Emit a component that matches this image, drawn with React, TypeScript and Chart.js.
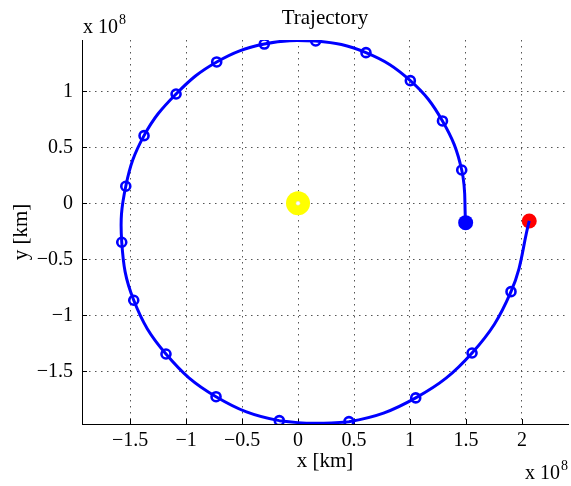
import { useEffect, useRef } from "react";
import { Chart, registerables } from "chart.js";

Chart.register(...registerables);

// Heliocentric positions, in units of 10^8 km
const markX = [1.462, 1.29, 1.003, 0.607, 0.158, -0.301, -0.726, -1.089, -1.375, -1.538, -1.574, -1.467, -1.179, -0.732, -0.167, 0.455, 1.051, 1.554, 1.902];
const markY = [0.297, 0.735, 1.095, 1.345, 1.449, 1.422, 1.262, 0.976, 0.604, 0.152, -0.348, -0.866, -1.346, -1.727, -1.941, -1.95, -1.738, -1.337, -0.789];
const departure = { x: 1.497, y: -0.173 };
const arrival = { x: 2.065, y: -0.158 };
const sun = { x: 0, y: 0 };

const xTicks = [-1.5, -1, -0.5, 0, 0.5, 1, 1.5, 2];
const yTicks = [-1.5, -1, -0.5, 0, 0.5, 1];
const xRange = [-1.929, 2.411];
const yRange = [-1.971, 1.458];

const SERIF = "'Liberation Serif', 'Times New Roman', serif";
const BLUE = "#0000ff";
const GRID = "#555";

const fmt = (v: number) => (v < 0 ? "\u2212" : "") + String(Math.abs(v));

const marks = markX.map((x, i) => ({ x, y: markY[i] }));
const path = [departure, ...marks, arrival];

const zeroPadding = (s: any) => {
  s.paddingLeft = 0;
  s.paddingRight = 0;
  s.paddingTop = 0;
  s.paddingBottom = 0;
};

const decorations = {
  id: "decorations",
  beforeDatasetsDraw(chart: any) {
    const { ctx, chartArea: a, scales } = chart;
    ctx.save();
    // inward tick marks
    ctx.strokeStyle = "#000";
    ctx.lineWidth = 1;
    ctx.beginPath();
    xTicks.forEach((v) => {
      const p = Math.round(scales.x.getPixelForValue(v)) + 0.5;
      ctx.moveTo(p, a.bottom);
      ctx.lineTo(p, a.bottom - 5);
    });
    yTicks.forEach((v) => {
      const p = Math.round(scales.y.getPixelForValue(v)) + 0.5;
      ctx.moveTo(a.left, p);
      ctx.lineTo(a.left + 5, p);
    });
    ctx.stroke();
    ctx.restore();
  },
  afterDraw(chart: any) {
    const { ctx, chartArea: a } = chart;
    ctx.save();
    ctx.fillStyle = "#000";
    ctx.textBaseline = "alphabetic";
    // title
    ctx.font = `21px ${SERIF}`;
    ctx.textAlign = "center";
    ctx.fillText("Trajectory", (a.left + a.right) / 2, 24);
    // exponent labels
    const exponent = (x: number, y: number) => {
      ctx.textAlign = "left";
      ctx.font = `20px ${SERIF}`;
      ctx.fillText("x 10", x, y);
      const w = ctx.measureText("x 10").width;
      ctx.font = `14px ${SERIF}`;
      ctx.fillText("8", x + w + 1, y - 9);
    };
    exponent(a.left + 1, 33);
    exponent(525, 479);
    ctx.restore();
  },
};

export default function App() {
  const ref = useRef<HTMLCanvasElement>(null);

  useEffect(() => {
    const chart = new Chart(ref.current!, {
      type: "scatter",
      data: {
        datasets: [
          {
            label: "departure",
            data: [departure],
            pointRadius: 7.5,
            pointBackgroundColor: BLUE,
            pointBorderColor: BLUE,
            pointBorderWidth: 0,
            order: 0,
          },
          {
            label: "samples",
            data: marks,
            pointRadius: 4.5,
            pointBackgroundColor: "rgba(0,0,0,0)",
            pointBorderColor: BLUE,
            pointBorderWidth: 2.6,
            order: 1,
          },
          {
            label: "trajectory",
            data: path,
            showLine: true,
            borderColor: BLUE,
            borderWidth: 3,
            tension: 0.4,
            pointRadius: 0,
            order: 2,
          },
          {
            label: "arrival",
            data: [arrival],
            pointRadius: 7.5,
            pointBackgroundColor: "#ff0000",
            pointBorderColor: "#ff0000",
            pointBorderWidth: 0,
            order: 3,
          },
          {
            label: "sun core",
            data: [sun],
            pointRadius: 2,
            pointBackgroundColor: "#ffffff",
            pointBorderColor: "#dddddd",
            pointBorderWidth: 0.5,
            order: 4,
          },
          {
            label: "sun",
            data: [sun],
            pointRadius: 12,
            pointBackgroundColor: "#ffff00",
            pointBorderColor: "#ffff00",
            pointBorderWidth: 0,
            order: 5,
          },
        ],
      },
      options: {
        responsive: false,
        maintainAspectRatio: false,
        animation: false,
        devicePixelRatio: 1,
        layout: { autoPadding: false, padding: { left: 0, top: 40, right: 3, bottom: 0 } },
        plugins: {
          legend: { display: false },
          tooltip: { enabled: false },
          title: { display: false },
        },
        scales: {
          x: {
            type: "linear",
            min: xRange[0],
            max: xRange[1],
            afterBuildTicks: (s: any) => {
              s.ticks = xTicks.map((value) => ({ value }));
            },
            afterFit: (s: any) => {
              s.height = 62;
              zeroPadding(s);
            },
            grid: { color: GRID, lineWidth: 1, drawTicks: false },
            border: { display: true, color: "#000", width: 1, dash: [1.5, 4.5] },
            ticks: {
              color: "#000",
              padding: 4.5,
              maxRotation: 0,
              autoSkip: false,
              font: { family: SERIF, size: 20 },
              callback: (v: any) => fmt(Number(v)),
            },
            title: {
              display: true,
              text: "x [km]",
              color: "#000",
              font: { family: SERIF, size: 21 },
              padding: { top: 0, bottom: 12 },
            },
          },
          y: {
            type: "linear",
            min: yRange[0],
            max: yRange[1],
            afterBuildTicks: (s: any) => {
              s.ticks = yTicks.map((value) => ({ value }));
            },
            afterFit: (s: any) => {
              s.width = 82;
              zeroPadding(s);
            },
            grid: { color: GRID, lineWidth: 1, drawTicks: false },
            border: { display: true, color: "#000", width: 1, dash: [1.5, 4.5] },
            ticks: {
              color: "#000",
              padding: 9,
              font: { family: SERIF, size: 20 },
              callback: (v: any) => fmt(Number(v)),
            },
            title: {
              display: true,
              text: "y [km]",
              color: "#000",
              font: { family: SERIF, size: 21 },
              padding: { top: 9, bottom: 0 },
            },
          },
        },
      },
      plugins: [decorations],
    });
    return () => chart.destroy();
  }, []);

  return (
    <div style={{ position: "fixed", left: 0, top: 0, width: 571, height: 486, background: "#fff" }}>
      <canvas ref={ref} width={571} height={486} />
    </div>
  );
}
